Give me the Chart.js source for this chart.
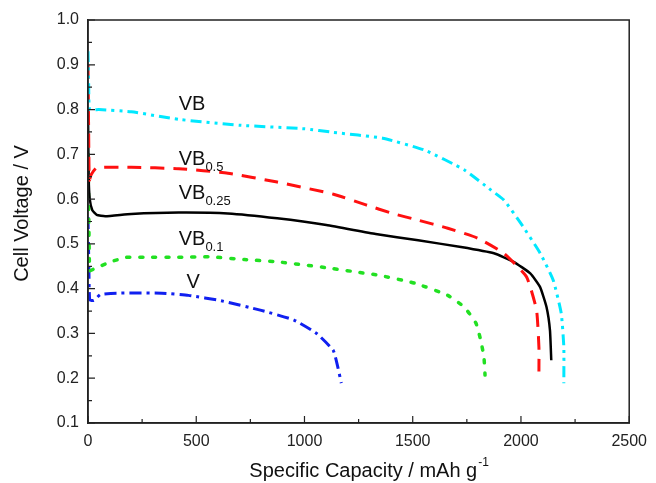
<!DOCTYPE html>
<html>
<head>
  <title>Cell voltage vs specific capacity</title>
  <script src="https://cdn.jsdelivr.net/npm/chart.js"></script>
  <style>
    body {
      margin: 0;
      padding: 0;
      background-color: #fff;
    }
    canvas {
      display: block;
    }
  </style>
</head>
<body>
  <canvas id="capChart" width="656" height="483"></canvas>
  <script>
    // values
    const vbCap = [0, 3, 8, 50, 200, 420, 700, 1000, 1134, 1361, 1557, 1739, 1862, 1921, 1998, 2089, 2149, 2186, 2198, 2198];
    const vbVolt = [0.93, 0.86, 0.80, 0.80, 0.795, 0.778, 0.765, 0.757, 0.749, 0.736, 0.709, 0.665, 0.620, 0.598, 0.547, 0.479, 0.419, 0.345, 0.270, 0.189];

    const vb05Cap = [0, 3, 6, 15, 40, 200, 419, 646, 874, 1134, 1284, 1407, 1525, 1662, 1799, 1921, 2026, 2072, 2083, 2083];
    const vb05Volt = [0.90, 0.75, 0.642, 0.655, 0.670, 0.671, 0.668, 0.658, 0.638, 0.611, 0.587, 0.568, 0.553, 0.535, 0.513, 0.479, 0.426, 0.352, 0.269, 0.215];

    const vb025Cap = [0, 3, 8, 20, 40, 80, 200, 419, 646, 874, 1101, 1329, 1525, 1723, 1875, 1966, 2043, 2088, 2118, 2134, 2140];
    const vb025Volt = [0.80, 0.65, 0.60, 0.575, 0.565, 0.562, 0.567, 0.570, 0.568, 0.557, 0.542, 0.522, 0.508, 0.493, 0.479, 0.460, 0.434, 0.404, 0.359, 0.307, 0.240];

    const vb01Cap = [0, 4, 8, 23, 105, 178, 255, 419, 570, 723, 874, 1115, 1270, 1344, 1511, 1662, 1738, 1792, 1814, 1829, 1834];
    const vb01Volt = [0.70, 0.55, 0.44, 0.443, 0.46, 0.47, 0.47, 0.47, 0.471, 0.465, 0.46, 0.446, 0.435, 0.43, 0.412, 0.385, 0.359, 0.323, 0.285, 0.247, 0.207];

    const vCap = [0, 4, 8, 27, 58, 132, 341, 464, 615, 796, 951, 1056, 1133, 1154, 1170];
    const vVolt = [0.56, 0.45, 0.375, 0.374, 0.387, 0.390, 0.390, 0.385, 0.373, 0.352, 0.330, 0.300, 0.262, 0.225, 0.189];

    const xTicks = [0, 500, 1000, 1500, 2000, 2500];
    const yTicks = [0.1, 0.2, 0.3, 0.4, 0.5, 0.6, 0.7, 0.8, 0.9, 1.0];

    // curve labels: main text, subscript, anchor (capacity, voltage)
    const labelMain = ['VB', 'VB', 'VB', 'VB', 'V'];
    const labelSub = ['', '0.5', '0.25', '0.1', ''];
    const labelX = [419, 419, 419, 419, 455];
    const labelY = [0.799, 0.676, 0.600, 0.497, 0.401];

    function pts(xs, ys) {
      return xs.map((x, i) => ({ x: x, y: ys[i] }));
    }

    function line(label, xs, ys, color, dash, width, cap) {
      return {
        label: label,
        data: pts(xs, ys),
        showLine: true,
        borderColor: color,
        backgroundColor: color,
        borderWidth: width,
        borderDash: dash,
        borderCapStyle: cap || 'butt',
        pointRadius: 0,
        tension: 0.15
      };
    }

    const frame = {
      id: 'frame',
      afterDraw(chart) {
        const ctx = chart.ctx;
        const a = chart.chartArea;
        const xs = chart.scales.x;
        const ys = chart.scales.y;
        ctx.save();
        ctx.strokeStyle = '#222';
        ctx.lineWidth = 1.5;
        ctx.strokeRect(a.left, a.top, a.right - a.left, a.bottom - a.top);

        // inward ticks, minor ones half way
        ctx.lineWidth = 1.2;
        ctx.beginPath();
        for (let v = 0; v <= 2500; v += 250) {
          const px = xs.getPixelForValue(v);
          const len = v % 500 === 0 ? 7 : 4;
          ctx.moveTo(px, a.bottom);
          ctx.lineTo(px, a.bottom - len);
        }
        for (let i = 2; i <= 20; i++) {
          const v = i * 0.05;
          const py = ys.getPixelForValue(v);
          const len = i % 2 === 0 ? 7 : 4;
          ctx.moveTo(a.left, py);
          ctx.lineTo(a.left + len, py);
        }
        ctx.stroke();

        // curve labels
        ctx.fillStyle = '#111';
        ctx.textBaseline = 'alphabetic';
        ctx.textAlign = 'left';
        labelMain.forEach((t, i) => {
          const px = xs.getPixelForValue(labelX[i]);
          const py = ys.getPixelForValue(labelY[i]);
          ctx.font = '20px Arial, "Liberation Sans", sans-serif';
          ctx.fillText(t, px, py);
          if (labelSub[i]) {
            const w = ctx.measureText(t).width;
            ctx.font = '13px Arial, "Liberation Sans", sans-serif';
            ctx.fillText(labelSub[i], px + w, py + 6);
          }
        });

        // axis titles
        ctx.fillStyle = '#111';
        ctx.font = '20px Arial, "Liberation Sans", sans-serif';
        ctx.save();
        ctx.translate(28, (a.top + a.bottom) / 2 - 8);
        ctx.rotate(-Math.PI / 2);
        ctx.textAlign = 'center';
        ctx.fillText('Cell Voltage / V', 0, 0);
        ctx.restore();

        const main = 'Specific Capacity / mAh g';
        const sup = '-1';
        ctx.font = '20px Arial, "Liberation Sans", sans-serif';
        const mw = ctx.measureText(main).width;
        ctx.font = '12px Arial, "Liberation Sans", sans-serif';
        const sw = ctx.measureText(sup).width;
        const start = (a.left + a.right) / 2 + 10 - (mw + sw) / 2;
        ctx.textAlign = 'left';
        ctx.font = '20px Arial, "Liberation Sans", sans-serif';
        ctx.fillText(main, start, 477);
        ctx.font = '12px Arial, "Liberation Sans", sans-serif';
        ctx.fillText(sup, start + mw + 1, 466);
        ctx.restore();
      }
    };

    const tickFont = { family: 'Arial, "Liberation Sans", sans-serif', size: 16 };

    new Chart(document.getElementById('capChart').getContext('2d'), {
      type: 'scatter',
      data: {
        datasets: [
          line('VB', vbCap, vbVolt, '#00e8ff', [11, 5, 3, 5, 3, 5], 3),
          line('VB0.5', vb05Cap, vb05Volt, '#ff1010', [14, 9], 3),
          line('VB0.25', vb025Cap, vb025Volt, '#000000', [], 2.5),
          line('VB0.1', vb01Cap, vb01Volt, '#22e022', [3, 10], 3.5, 'round'),
          line('V', vCap, vVolt, '#1020f0', [12, 5, 3, 5], 3)
        ]
      },
      options: {
        responsive: false,
        animation: false,
        layout: { padding: { top: 20, right: 19, left: 0, bottom: 0 } },
        plugins: {
          legend: { display: false },
          tooltip: { enabled: false }
        },
        scales: {
          x: {
            type: 'linear',
            min: 0,
            max: 2500,
            afterBuildTicks: s => { s.ticks = xTicks.map(v => ({ value: v })); },
            afterFit: s => { s.height = 60; },
            grid: { display: false, drawTicks: false },
            border: { display: true, color: '#222', width: 1.5 },
            ticks: {
              font: tickFont,
              color: '#222',
              padding: 9,
              maxRotation: 0,
              callback: v => String(v)
            }
          },
          y: {
            type: 'linear',
            min: 0.1,
            max: 1.0,
            afterBuildTicks: s => { s.ticks = yTicks.map(v => ({ value: v })); },
            afterFit: s => { s.width = 88; },
            grid: { display: false, drawTicks: false },
            border: { display: true, color: '#222', width: 1.5 },
            ticks: {
              font: tickFont,
              color: '#222',
              padding: 9,
              callback: v => Number(v).toFixed(1)
            }
          }
        }
      },
      plugins: [frame]
    });
  </script>
</body>
</html>
